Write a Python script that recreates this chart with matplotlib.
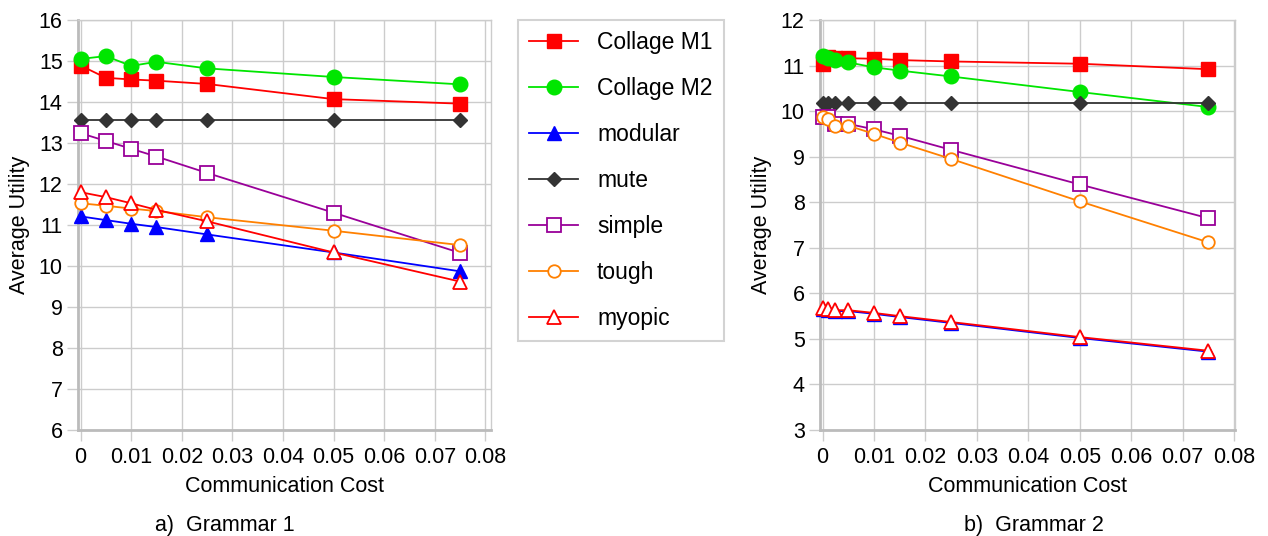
"""
Average utility vs communication cost, two grammars side by side,
with one shared legend in the middle.
"""

import matplotlib
matplotlib.use("Agg")
import matplotlib.pyplot as plt

plt.rcParams["font.family"] = ["Liberation Sans", "DejaVu Sans"]

# ============================================================
#  Datos
# ============================================================

series_names = ["Collage M1", "Collage M2", "modular", "mute", "simple", "tough", "myopic"]

# Grammar 1
cost_g1 = [0, 0.005, 0.01, 0.015, 0.025, 0.05, 0.075]
g1_collage_m1 = [14.89, 14.59, 14.55, 14.52, 14.44, 14.07, 13.96]
g1_collage_m2 = [15.05, 15.12, 14.88, 14.98, 14.82, 14.61, 14.43]
g1_modular = [11.21, 11.12, 11.03, 10.95, 10.77, 10.33, 9.87]
g1_mute = [13.55, 13.55, 13.55, 13.55, 13.55, 13.55, 13.55]
g1_simple = [13.24, 13.05, 12.86, 12.67, 12.27, 11.30, 10.32]
g1_tough = [11.53, 11.47, 11.40, 11.34, 11.19, 10.86, 10.51]
g1_myopic = [11.80, 11.68, 11.53, 11.37, 11.09, 10.33, 9.62]

# Grammar 2
cost_g2 = [0, 0.001, 0.0025, 0.005, 0.01, 0.015, 0.025, 0.05, 0.075]
g2_collage_m1 = [11.04, 11.18, 11.17, 11.16, 11.15, 11.12, 11.09, 11.04, 10.92]
g2_collage_m2 = [11.20, 11.16, 11.12, 11.07, 10.96, 10.89, 10.76, 10.42, 10.09]
g2_modular = [5.66, 5.64, 5.61, 5.61, 5.55, 5.48, 5.35, 5.02, 4.72]
g2_mute = [10.18, 10.18, 10.18, 10.18, 10.18, 10.18, 10.18, 10.18, 10.18]
g2_simple = [9.87, 9.86, 9.72, 9.72, 9.60, 9.46, 9.15, 8.39, 7.65]
g2_tough = [9.87, 9.82, 9.68, 9.68, 9.50, 9.31, 8.95, 8.02, 7.12]
g2_myopic = [5.68, 5.66, 5.63, 5.63, 5.57, 5.50, 5.37, 5.04, 4.74]

x_ticks = [0, 0.01, 0.02, 0.03, 0.04, 0.05, 0.06, 0.07, 0.08]
x_tick_labels = ["0", "0.01", "0.02", "0.03", "0.04", "0.05", "0.06", "0.07", "0.08"]
y_ticks_g1 = list(range(6, 17))
y_ticks_g2 = list(range(3, 13))

# Estilos (color, marker, size, hueco)
styles = {
    "Collage M1": ("#ff0000", "s", 10.5, False),
    "Collage M2": ("#00e600", "o", 10.5, False),
    "modular": ("#0000ff", "^", 9.5, False),
    "mute": ("#333333", "D", 7.5, False),
    "simple": ("#990099", "s", 9.5, True),
    "tough": ("#ff8000", "o", 9, True),
    "myopic": ("#ff0000", "^", 9.5, True),
}

FS = 15.5
GRID = "#cccccc"


def draw_panel(ax, cost, values, y_ticks):
    for name, ys in zip(series_names, values):
        color, marker, size, hollow = styles[name]
        ax.plot(cost, ys, color=color, lw=1.3, marker=marker, markersize=size,
                markerfacecolor="white" if hollow else color,
                markeredgecolor=color, markeredgewidth=1.3 if hollow else 1.0,
                label=name, clip_on=False, zorder=3)

    ax.set_ylim(y_ticks[0], y_ticks[-1])
    ax.set_yticks(y_ticks)
    ax.set_xticks(x_ticks)
    ax.set_xticklabels(x_tick_labels)
    ax.grid(True, color=GRID, lw=1.0)
    ax.set_axisbelow(True)
    for side in ["top", "right"]:
        ax.spines[side].set_color(GRID)
        ax.spines[side].set_linewidth(1.0)
    for side in ["left", "bottom"]:
        ax.spines[side].set_color("#bbbbbb")
        ax.spines[side].set_linewidth(2.0)
    ax.tick_params(axis="both", labelsize=FS, color=GRID, width=1.0)
    ax.tick_params(axis="y", length=8, pad=3)
    ax.tick_params(axis="x", length=8, pad=4)
    ax.set_xlabel("Communication Cost", fontsize=FS, labelpad=6)
    ax.set_ylabel("Average Utility", fontsize=FS, labelpad=6)


fig = plt.figure(figsize=(12.68, 5.36), dpi=100)

W, H = 1268.0, 536.0
ax1 = fig.add_axes([78 / W, (H - 430) / H, 413 / W, 410 / H])
ax2 = fig.add_axes([820 / W, (H - 430) / H, 415 / W, 410 / H])

draw_panel(ax1, cost_g1,
           [g1_collage_m1, g1_collage_m2, g1_modular, g1_mute, g1_simple, g1_tough, g1_myopic],
           y_ticks_g1)
ax1.set_xlim(-0.0005, 0.0811)

draw_panel(ax2, cost_g2,
           [g2_collage_m1, g2_collage_m2, g2_modular, g2_mute, g2_simple, g2_tough, g2_myopic],
           y_ticks_g2)
ax2.set_xlim(-0.0005, 0.0802)

handles, labels = ax1.get_legend_handles_labels()
leg = fig.legend(handles, labels, loc="upper left",
                 bbox_to_anchor=(518 / W, 1 - 20 / H), borderaxespad=0,
                 fontsize=16.5, frameon=True, fancybox=False,
                 handlelength=2.1, handletextpad=0.85, labelspacing=1.0,
                 borderpad=0.5)
leg.get_frame().set_edgecolor("#c8c8c8")
leg.get_frame().set_linewidth(1.5)

fig.text(225 / W, 1 - 525 / H, "a)  Grammar 1", fontsize=FS, ha="center", va="center")
fig.text(1034 / W, 1 - 525 / H, "b)  Grammar 2", fontsize=FS, ha="center", va="center")

fig.savefig("out.png", dpi=100)
